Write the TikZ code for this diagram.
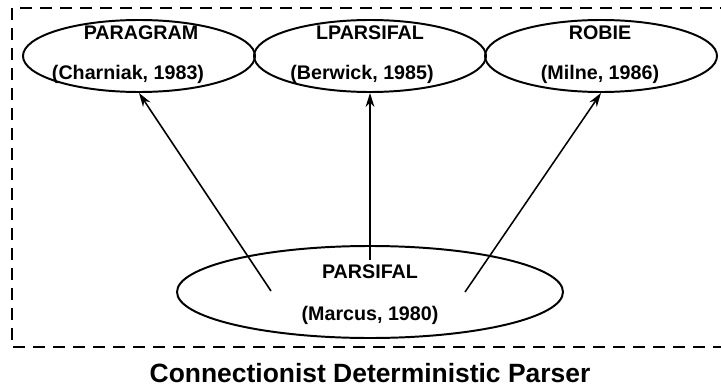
\documentclass[tikz,border=0pt]{standalone}
\usepackage{fontspec}
\setsansfont{Liberation Sans}
\usetikzlibrary{arrows.meta,shapes.geometric}

\begin{document}
\begin{tikzpicture}[x=0.25mm,y=-0.25mm,
  parser/.style={ellipse,draw,line width=1.4pt,inner sep=0pt,minimum width=58mm,minimum height=18mm},
  lbl/.style={font=\sffamily\bfseries\fontsize{14}{16}\selectfont,anchor=base,inner sep=0pt},
  link/.style={-{Stealth[length=3.5mm,width=2.2mm]},line width=1.1pt}]
\useasboundingbox (0,0) rectangle (721,390);
\draw[line width=1.1pt,dash pattern=on 3mm off 2mm] (12,8) rectangle (723,347);
\node[parser] (paragram) at (139,56) {};
\node[parser] (lparsifal) at (370,56) {};
\node[parser] (robie) at (601,56) {};
\node[parser,minimum width=96.5mm,minimum height=23mm] (parsifal) at (370,292) {};
\node[lbl] (paragram-name) at (141,40) {PARAGRAM};
\node[lbl] (paragram-ref) at (128,80) {(Charniak, 1983)};
\node[lbl] (lparsifal-name) at (370,40) {LPARSIFAL};
\node[lbl] (lparsifal-ref) at (362,80) {(Berwick, 1985)};
\node[lbl] (robie-name) at (600,40) {ROBIE};
\node[lbl] (robie-ref) at (600,80) {(Milne, 1986)};
\node[lbl] (parsifal-name) at (370,278) {PARSIFAL};
\node[lbl] (parsifal-ref) at (370,320) {(Marcus, 1980)};
\coordinate (from-left) at (271,291);
\coordinate (from-mid) at (370,260);
\coordinate (from-right) at (465,292);
\draw[link] (from-left) -- (paragram.south);
\draw[link] (from-mid) -- (lparsifal.south);
\draw[link] (from-right) -- (robie.south);
\node[font=\sffamily\bfseries\fontsize{18.8}{22}\selectfont,anchor=base] (caption) at (370,382) {Connectionist Deterministic Parser};
\end{tikzpicture}
\end{document}
